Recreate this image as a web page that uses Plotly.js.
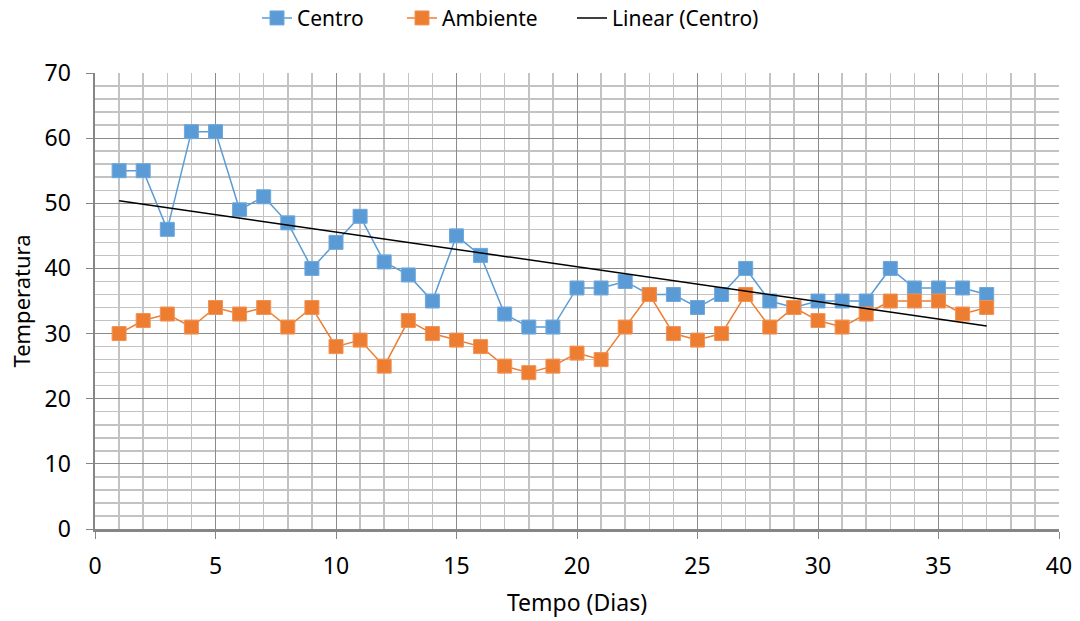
<!DOCTYPE html>
<html>
<head>
<meta charset="utf-8">
<script src="https://cdn.plot.ly/plotly-3.0.1.min.js"></script>
<style>html,body{margin:0;padding:0;background:#fff;}#chart{width:1080px;height:621px;}</style>
</head>
<body>
<div id="chart"></div>
<script>
const dias = [1,2,3,4,5,6,7,8,9,10,11,12,13,14,15,16,17,18,19,20,21,22,23,24,25,26,27,28,29,30,31,32,33,34,35,36,37];
const centro = [55,55,46,61,61,49,51,47,40,44,48,41,39,35,45,42,33,31,31,37,37,38,36,36,34,36,40,35,34,35,35,35,40,37,37,37,36];
const ambiente = [30,32,33,31,34,33,34,31,34,28,29,25,32,30,29,28,25,24,25,27,26,31,36,30,29,30,36,31,34,32,31,33,35,35,35,33,34];

// least-squares trendline of Centro
const n = dias.length;
const mx = dias.reduce((a,b)=>a+b,0)/n;
const my = centro.reduce((a,b)=>a+b,0)/n;
let sxy=0, sxx=0;
for (let i=0;i<n;i++){ sxy += (dias[i]-mx)*(centro[i]-my); sxx += (dias[i]-mx)**2; }
const slope = sxy/sxx, icpt = my - slope*mx;
const trendX = [dias[0], dias[n-1]];
const trendY = trendX.map(x => icpt + slope*x);

const font = 'Noto Sans, Open Sans, sans-serif';
const traces = [
  {x: dias, y: centro, name: 'Centro', type: 'scatter', mode: 'lines+markers', legend: 'legend',
   line: {color: '#5B9BD5', width: 1.5},
   marker: {symbol: 'square', size: 14, color: '#5B9BD5', line: {color: '#6FA8DC', width: 1}}},
  {x: dias, y: ambiente, name: 'Ambiente', type: 'scatter', mode: 'lines+markers', legend: 'legend2',
   line: {color: '#ED7D31', width: 1.5},
   marker: {symbol: 'square', size: 14, color: '#ED7D31', line: {color: '#F29256', width: 1}}},
  {x: trendX, y: trendY, name: 'Linear (Centro)', type: 'scatter', mode: 'lines', legend: 'legend3',
   line: {color: '#000000', width: 1.5}}
];

function leg(xpx) {
  return {orientation: 'h', x: (xpx - 95) / 964, xanchor: 'left', y: 1.12, yanchor: 'middle',
          xref: 'paper', font: {size: 21, family: font}, bgcolor: 'rgba(0,0,0,0)'};
}

const layout = {
  width: 1080, height: 621,
  margin: {l: 95, r: 21, t: 73, b: 92, autoexpand: false},
  paper_bgcolor: '#ffffff', plot_bgcolor: '#ffffff',
  font: {family: font, size: 20, color: '#000'},
  showlegend: true,
  legend: leg(257),
  legend2: leg(402),
  legend3: leg(572),
  xaxis: {
    range: [0, 40], dtick: 5, tick0: 0, ticks: 'outside', ticklen: 7, tickcolor: '#868686',
    showline: true, linecolor: '#868686', linewidth: 2.5, zeroline: false,
    showgrid: true, gridcolor: '#8a8a8a', gridwidth: 1,
    minor: {dtick: 1, showgrid: true, gridcolor: '#c3c3c3', gridwidth: 1.5, ticks: ''},
    tickfont: {size: 23, family: font}, ticklabelstandoff: 8,
    title: {text: 'Tempo (Dias)', font: {size: 23, family: font}, standoff: 15},
    fixedrange: true
  },
  yaxis: {
    range: [0, 70], dtick: 10, tick0: 0, ticks: 'outside', ticklen: 7, tickcolor: '#868686',
    showline: true, linecolor: '#868686', linewidth: 2.5, zeroline: false,
    showgrid: true, gridcolor: '#8a8a8a', gridwidth: 1,
    minor: {dtick: 2, showgrid: true, gridcolor: '#c3c3c3', gridwidth: 1.5, ticks: ''},
    tickfont: {size: 23, family: font}, ticklabelstandoff: 10,
    title: {text: 'Temperatura', font: {size: 22, family: font}, standoff: 8},
    fixedrange: true
  }
};

Plotly.newPlot('chart', traces, layout, {displayModeBar: false, staticPlot: true});
</script>
</body>
</html>
